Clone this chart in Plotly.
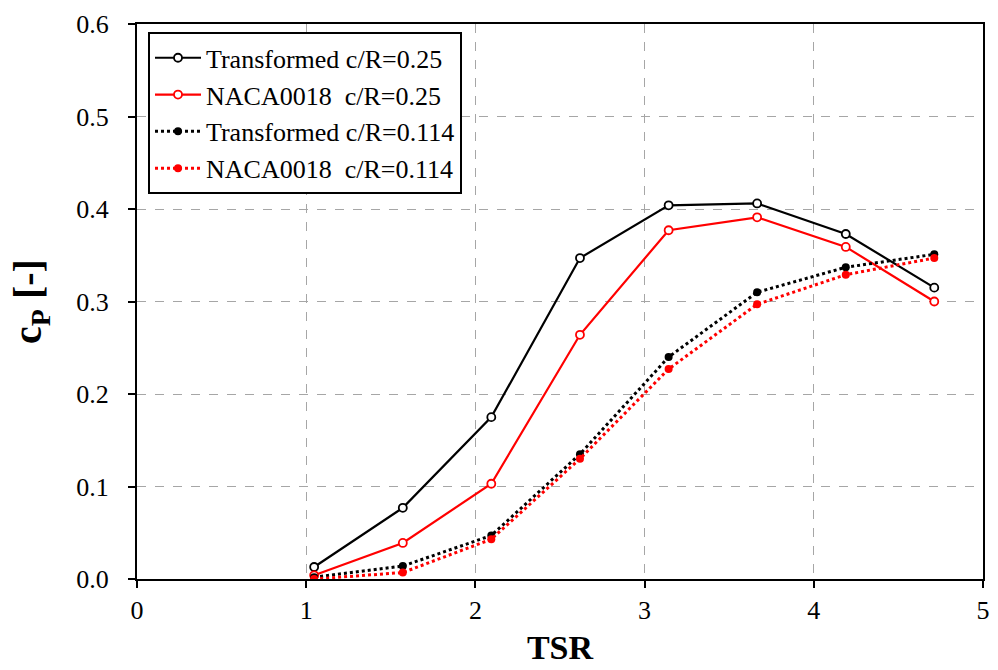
import plotly.graph_objects as go

# Tip speed ratio stations
tsr = [1.047, 1.571, 2.094, 2.618, 3.142, 3.665, 4.189, 4.712]

# Power coefficient per configuration
cp_transformed_025 = [0.013, 0.077, 0.175, 0.347, 0.404, 0.406, 0.373, 0.315]
cp_naca_025 = [0.004, 0.039, 0.103, 0.264, 0.377, 0.391, 0.359, 0.300]
cp_transformed_0114 = [0.002, 0.014, 0.047, 0.135, 0.240, 0.310, 0.337, 0.351]
cp_naca_0114 = [0.0, 0.007, 0.043, 0.130, 0.227, 0.297, 0.329, 0.347]

series_names = [
    "Transformed c/R=0.25",
    "NACA0018  c/R=0.25",
    "Transformed c/R=0.114",
    "NACA0018  c/R=0.114",
]

x_ticks = [0, 1, 2, 3, 4, 5]
y_ticks = [0.0, 0.1, 0.2, 0.3, 0.4, 0.5, 0.6]
y_tick_text = ["0.0", "0.1", "0.2", "0.3", "0.4", "0.5", "0.6"]

FONT = "Liberation Serif, Times New Roman, serif"

fig = go.Figure()

fig.add_trace(go.Scatter(
    x=tsr, y=cp_transformed_025, name=series_names[0], mode="lines+markers",
    line=dict(color="black", width=2.2),
    marker=dict(symbol="circle", size=8, color="white",
                line=dict(color="black", width=1.8)),
))
fig.add_trace(go.Scatter(
    x=tsr, y=cp_naca_025, name=series_names[1], mode="lines+markers",
    line=dict(color="#ff0000", width=2.2),
    marker=dict(symbol="circle", size=8, color="white",
                line=dict(color="#ff0000", width=1.8)),
))
fig.add_trace(go.Scatter(
    x=tsr, y=cp_transformed_0114, name=series_names[2], mode="lines+markers",
    line=dict(color="black", width=3, dash="dot"),
    marker=dict(symbol="circle", size=8, color="black"),
))
fig.add_trace(go.Scatter(
    x=tsr, y=cp_naca_0114, name=series_names[3], mode="lines+markers",
    line=dict(color="#ff0000", width=3, dash="dot"),
    marker=dict(symbol="circle", size=8, color="#ff0000"),
))

axis_common = dict(
    showline=True, linecolor="black", linewidth=2, mirror=True,
    ticks="outside", ticklen=7, tickwidth=2, tickcolor="black",
    showgrid=True, gridcolor="#a6a6a6", gridwidth=1, griddash="dash",
    zeroline=False,
    tickfont=dict(family=FONT, size=26, color="black"),
)

fig.update_xaxes(
    range=[0, 5], tickvals=x_ticks,
    title=dict(text="<b>TSR</b>", font=dict(family=FONT, size=34, color="black"),
               standoff=11),
    **axis_common,
)
fig.update_yaxes(
    range=[0, 0.6], tickvals=y_ticks, ticktext=y_tick_text,
    ticklabelstandoff=14,
    title=dict(text="<b>c<sub>P</sub> [-]</b>",
               font=dict(family=FONT, size=40, color="black"), standoff=22),
    **axis_common,
)

fig.update_layout(
    width=998, height=670,
    margin=dict(l=137, r=8, t=24, b=91),
    paper_bgcolor="white", plot_bgcolor="white",
    font=dict(family=FONT),
    showlegend=True,
    legend=dict(
        x=0.013, y=0.985, xanchor="left", yanchor="top",
        bgcolor="white", bordercolor="black", borderwidth=2,
        font=dict(family=FONT, size=26, color="black"),
        itemwidth=46, tracegroupgap=0,
    ),
)

fig.write_html("out.html")
